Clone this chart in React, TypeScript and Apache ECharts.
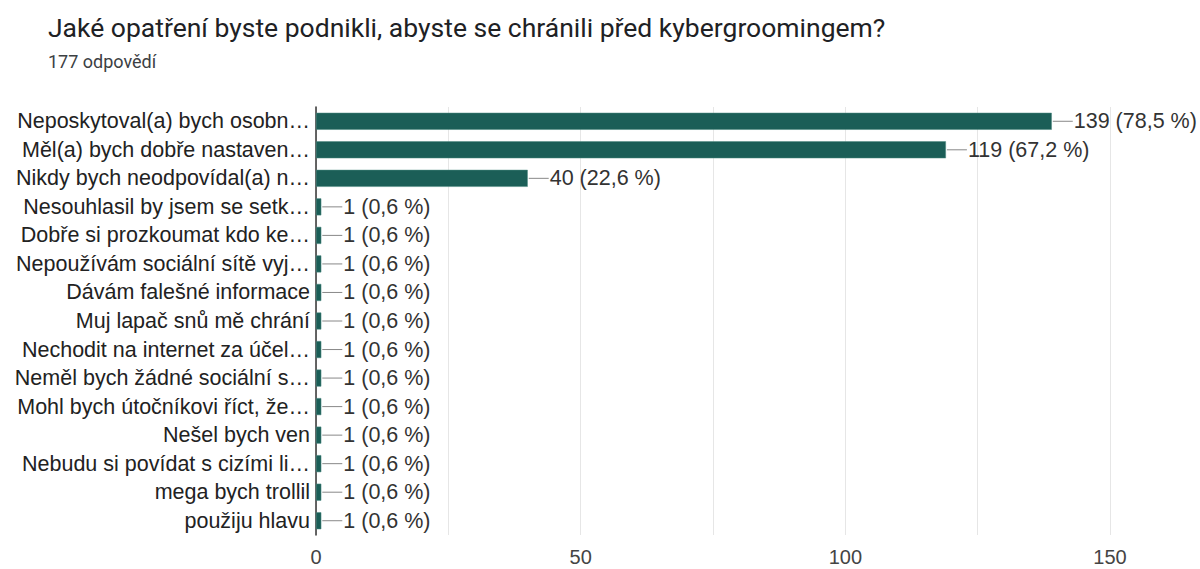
import React, { useEffect, useRef } from "react";
import * as echarts from "echarts";

const title = "Jaké opatření byste podnikli, abyste se chránili před kybergroomingem?";
const subtitle = "177 odpovědí";
const categories = [
  "Neposkytoval(a) bych osobn…",
  "Měl(a) bych dobře nastaven…",
  "Nikdy bych neodpovídal(a) n…",
  "Nesouhlasil by jsem se setk…",
  "Dobře si prozkoumat kdo ke…",
  "Nepoužívám sociální sítě vyj…",
  "Dávám falešné informace",
  "Muj lapač snů mě chrání",
  "Nechodit na internet za účel…",
  "Neměl bych žádné sociální s…",
  "Mohl bych útočníkovi říct, že…",
  "Nešel bych ven",
  "Nebudu si povídat s cizími li…",
  "mega bych trollil",
  "použiju hlavu",
];
const values = [139, 119, 40, 1, 1, 1, 1, 1, 1, 1, 1, 1, 1, 1, 1];
const percents = ["78,5", "67,2", "22,6", "0,6", "0,6", "0,6", "0,6", "0,6", "0,6", "0,6", "0,6", "0,6", "0,6", "0,6", "0,6"];
const xTicks = [0, 50, 100, 150];

export default function App() {
  const ref = useRef<HTMLDivElement>(null);
  useEffect(() => {
    document.body.style.margin = "0";
    const chart = echarts.init(ref.current!, null, { renderer: "svg" });
    const font = "'Liberation Sans', Arial, sans-serif";
    chart.setOption({
      animation: false,
      backgroundColor: "#ffffff",
      title: [
        {
          text: title,
          left: 43,
          top: 9,
          textStyle: { fontFamily: "Roboto", fontSize: 26.5, fontWeight: "normal", color: "#202124" },
        },
        {
          text: subtitle,
          left: 43,
          top: 47,
          textStyle: { fontFamily: "Roboto", fontSize: 18, fontWeight: "normal", color: "#3c4043" },
        },
      ],
      grid: { left: 316, right: 90, top: 107, bottom: 34, containLabel: false },
      xAxis: {
        type: "value",
        min: 0,
        max: 150,
        interval: 25,
        axisLine: { show: false },
        axisTick: { show: false },
        splitLine: { show: true, lineStyle: { color: "#e6e6e6", width: 1 } },
        axisLabel: {
          fontFamily: font,
          fontSize: 20,
          color: "#444444",
          margin: 12,
          formatter: (v: number) => (xTicks.includes(v) ? String(v) : ""),
        },
      },
      yAxis: {
        type: "category",
        data: categories,
        inverse: true,
        axisLine: { show: true, lineStyle: { color: "#333333", width: 1.5 } },
        axisTick: { show: false },
        axisLabel: { interval: 0, fontFamily: font, fontSize: 21.5, color: "#222222", margin: 6 },
      },
      series: [
        {
          type: "bar",
          data: values,
          barWidth: 17,
          itemStyle: { color: "#1b5e57", borderColor: "#4f8a82", borderWidth: 0.5 },
        },
        {
          type: "custom",
          data: values.map((v, i) => [v, i]),
          encode: { x: 0, y: 1 },
          z: 5,
          renderItem: (params: any, api: any) => {
            const i = api.value(1);
            const pt = api.coord([api.value(0), i]);
            const x0 = pt[0] + 1;
            return {
              type: "group",
              children: [
                {
                  type: "line",
                  shape: { x1: x0, y1: pt[1], x2: x0 + 20, y2: pt[1] },
                  style: { stroke: "#888888", lineWidth: 1 },
                },
                {
                  type: "text",
                  x: x0 + 21,
                  y: pt[1],
                  style: {
                    text: `${values[i]} (${percents[i]} %)`,
                    fontFamily: font,
                    fontSize: 21.5,
                    fill: "#333333",
                    verticalAlign: "middle",
                    align: "left",
                  },
                },
              ],
            };
          },
        },
      ],
    });
    return () => chart.dispose();
  }, []);
  return <div ref={ref} style={{ width: 1200, height: 569 }} />;
}
